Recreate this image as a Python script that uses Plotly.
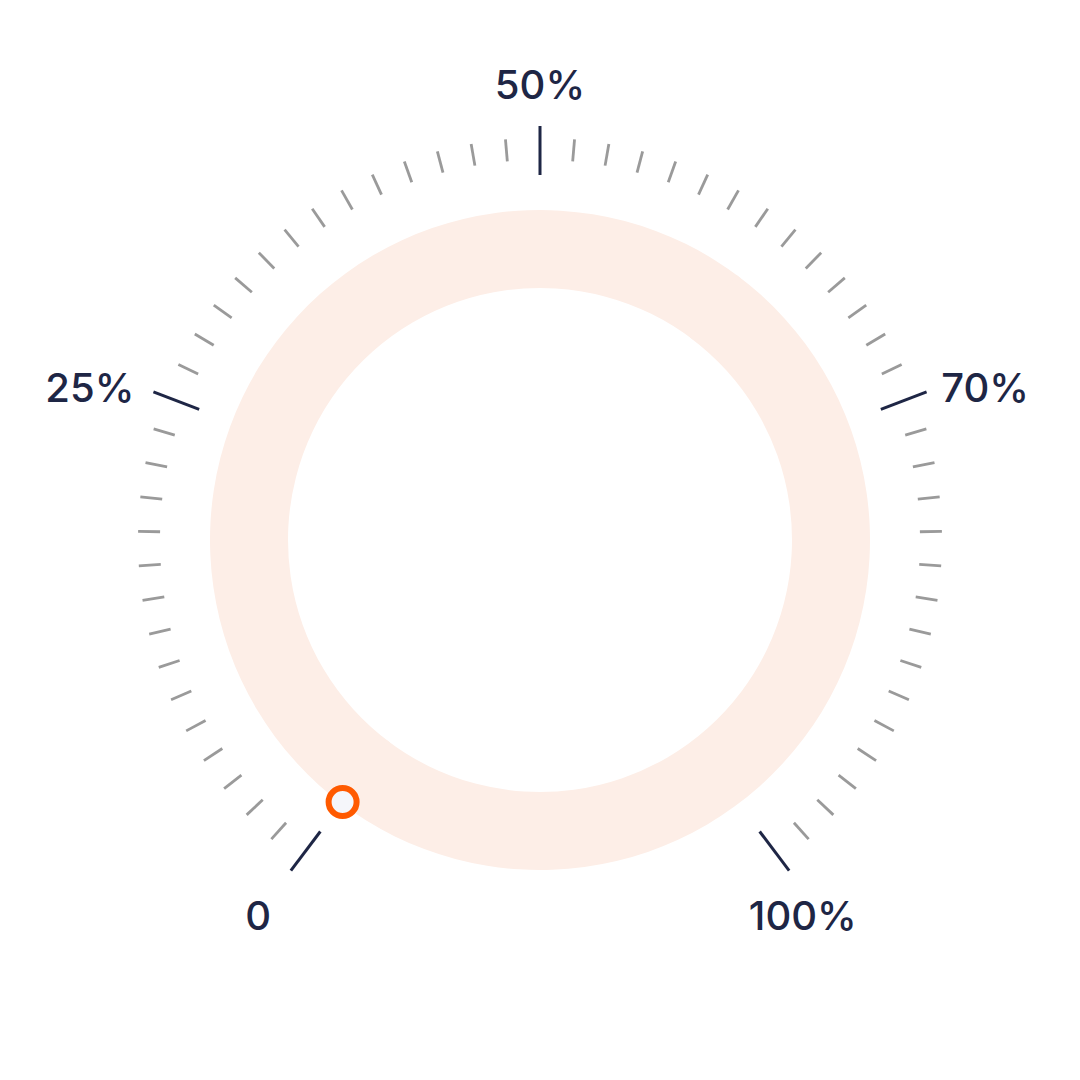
import plotly.graph_objects as go

# ---------------- data ----------------
gauge_value = 0                      # current value (index on the dial)
n_intervals = 58                     # tick intervals around the dial
major_index = [0, 15, 29, 43, 58]
major_labels = ["0", "25%", "50%", "70%", "100%"]

# ---------------- layout params ----------------
START_DEG = 233.0                    # screen angle (math, ccw) of index 0
SWEEP_DEG = 286.0
STEP = SWEEP_DEG / n_intervals
RING_IN, RING_OUT = 252, 330
MINOR_R = (380, 402)
MAJOR_R = (365, 414)
MARKER_R = 328
# per-label placement (radius, angular nudge in deg, clockwise positive)
LABEL_R = [472.8, 473.7, 451.5, 469.0, 461.7]
LABEL_NUDGE = [-0.4, -2.8, 0.0, 2.6, 2.3]

NAVY = "#1E2645"
GRAY = "#9A9A9A"
RING = "#FDEEE7"
ORANGE = "#FF5A00"

fig = go.Figure()

# ring track
fig.add_trace(go.Barpolar(
    r=[RING_OUT - RING_IN] * 2, base=[RING_IN] * 2,
    theta=[90, 270], width=[181, 181],
    marker=dict(color=RING, line=dict(width=0)),
    hoverinfo="skip", showlegend=False))

# minor ticks
mr, mt = [], []
for i in range(n_intervals + 1):
    if i in major_index:
        continue
    th = i * STEP
    mr += [MINOR_R[0], MINOR_R[1], None]
    mt += [th, th, None]
fig.add_trace(go.Scatterpolar(r=mr, theta=mt, mode="lines",
                              line=dict(color=GRAY, width=2.8),
                              hoverinfo="skip", showlegend=False))

# major ticks
Mr, Mt = [], []
for i in major_index:
    th = i * STEP
    Mr += [MAJOR_R[0], MAJOR_R[1], None]
    Mt += [th, th, None]
fig.add_trace(go.Scatterpolar(r=Mr, theta=Mt, mode="lines",
                              line=dict(color=NAVY, width=3),
                              hoverinfo="skip", showlegend=False))

# labels
fig.add_trace(go.Scatterpolar(
    r=LABEL_R,
    theta=[i * STEP + n for i, n in zip(major_index, LABEL_NUDGE)],
    mode="text", text=major_labels, textposition="middle center",
    textfont=dict(family="Inter", size=40, color=NAVY, weight=500),
    hoverinfo="skip", showlegend=False))

# value marker
fig.add_trace(go.Scatterpolar(
    r=[MARKER_R], theta=[gauge_value * STEP], mode="markers",
    marker=dict(size=28, color="#F5F6FA", line=dict(color=ORANGE, width=6)),
    hoverinfo="skip", showlegend=False))

fig.update_layout(
    width=1080, height=1080,
    margin=dict(l=0, r=0, t=0, b=0),
    paper_bgcolor="white", plot_bgcolor="white",
    showlegend=False,
    polar=dict(
        domain=dict(x=[0, 1], y=[0, 1]),
        bgcolor="rgba(0,0,0,0)",
        radialaxis=dict(range=[0, 540], visible=False, showgrid=False),
        angularaxis=dict(rotation=START_DEG, direction="clockwise",
                         visible=False, showgrid=False, showline=False,
                         ticks=""),
        barmode="overlay",
    ),
)

fig.write_html("out.html")
